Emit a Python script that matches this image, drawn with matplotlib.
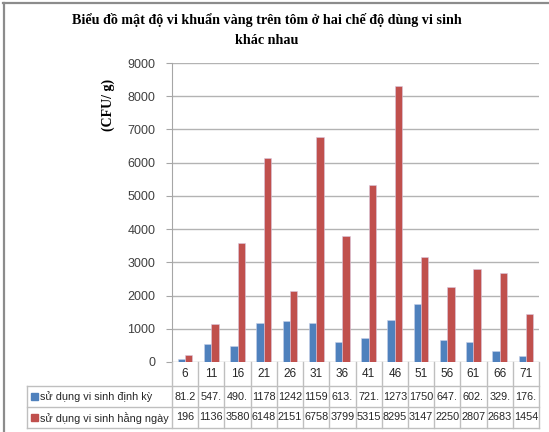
import numpy as np
import matplotlib.pyplot as plt
from matplotlib.lines import Line2D
from matplotlib.patches import Rectangle
from matplotlib.transforms import blended_transform_factory

days = ["6", "11", "16", "21", "26", "31", "36", "41", "46", "51", "56", "61", "66", "71"]
dinh_ky = [81.2, 547.5, 490.5, 1178, 1242, 1159, 613.5, 721.5, 1273, 1750, 647.5, 602.5, 329.5, 176.5]
hang_ngay = [196, 1136, 3580, 6148, 2151, 6758, 3799, 5315, 8295, 3147, 2250, 2807, 2683, 1454]
# cell texts as they appear (truncated) in the chart's data table
dinh_ky_txt = ["81.2", "547.", "490.", "1178", "1242", "1159", "613.", "721.", "1273", "1750",
               "647.", "602.", "329.", "176."]
hang_ngay_txt = ["196", "1136", "3580", "6148", "2151", "6758", "3799", "5315", "8295", "3147",
                 "2250", "2807", "2683", "1454"]
series_names = ["sử dụng vi sinh định kỳ", "sử dụng vi sinh hằng ngày"]
colors = ["#4F81BD", "#C0504D"]

W, H = 549, 432
fig = plt.figure(figsize=(W / 100, H / 100), dpi=100)

def fx(x):
    return x / W

def fy(y):
    return 1 - y / H

ax = fig.add_axes([fx(172), fy(362), fx(539) - fx(172), fy(63) - fy(362)])

x = np.arange(len(days))
bw = 0.28
ax.bar(x - bw / 2, dinh_ky, bw, color=colors[0], edgecolor="#c8d0e8", linewidth=0.4, zorder=3)
ax.bar(x + bw / 2, hang_ngay, bw, color=colors[1], edgecolor="#d8c8e0", linewidth=0.4, zorder=3)

ax.set_xlim(-0.5, len(days) - 0.5)
ax.set_ylim(0, 9000)
ax.set_yticks(np.arange(0, 9001, 1000))
ax.yaxis.grid(True, color="#b3b3b3", linewidth=1)
ax.set_axisbelow(True)
for s in ["top", "right", "bottom"]:
    ax.spines[s].set_visible(False)
ax.spines["left"].set_color("#a6a6a6")
ax.set_xticks([])
ax.tick_params(axis="y", length=4, color="#a6a6a6", labelsize=9, pad=8)
for lab in ax.get_yticklabels():
    lab.set_fontfamily("Liberation Sans")
    lab.set_color("#404040")

fig.text(fx(108), fy(105), "(CFU/ g)", rotation=90, ha="center", va="center",
         fontfamily="Liberation Serif", fontweight="bold", fontsize=10)

fig.text(fx(267), fy(20), "Biểu đồ mật độ vi khuẩn vàng trên tôm ở hai chế độ dùng vi sinh",
         ha="center", va="center", fontfamily="Liberation Serif", fontweight="bold", fontsize=10.2)
fig.text(fx(267), fy(40), "khác nhau",
         ha="center", va="center", fontfamily="Liberation Serif", fontweight="bold", fontsize=10.2)

# data table under the axis
tr = blended_transform_factory(ax.transData, fig.transFigure)
lc = "#bfbfbf"
y_top, y_r1, y_r2, y_bot = 362, 385.5, 407, 427.5
for b in np.arange(-0.5, len(days), 1.0):
    fig.add_artist(Line2D([b, b], [fy(y_top), fy(y_bot)], transform=tr, color=lc, lw=1))
for yy in [y_r1, y_r2, y_bot]:
    fig.add_artist(Line2D([fx(27), fx(538.5)], [fy(yy), fy(yy)], transform=fig.transFigure,
                          color=lc, lw=1))
fig.add_artist(Line2D([fx(27), fx(27)], [fy(y_r1), fy(y_bot)], transform=fig.transFigure,
                      color=lc, lw=1))

font_t = dict(fontfamily="Liberation Sans", fontsize=7.8, color="#262626")
for i, d in enumerate(days):
    fig.text(i, fy(374), d, transform=tr, ha="center", va="center",
             fontfamily="Liberation Sans", fontsize=8.5, color="#262626")
    fig.text(i, fy(396.5), dinh_ky_txt[i], transform=tr, ha="center", va="center", **font_t)
    fig.text(i, fy(417.5), hang_ngay_txt[i], transform=tr, ha="center", va="center", **font_t)

for k, (name, c) in enumerate(zip(series_names, colors)):
    yc = [396.5, 417.5][k]
    fig.add_artist(Rectangle((fx(30.5), fy(yc + 3.5)), fx(7), fy(0) - fy(7),
                             transform=fig.transFigure, color=c))
    fig.text(fx(40), fy(yc), name, ha="left", va="center", **font_t)

# chart area border
fig.add_artist(Line2D([fx(3), fx(549)], [fy(2.5), fy(2.5)], transform=fig.transFigure,
                      color="#8c8c8c", lw=1.6))
fig.add_artist(Line2D([fx(3.5), fx(3.5)], [fy(2.5), fy(432)], transform=fig.transFigure,
                      color="#8c8c8c", lw=1.6))

fig.savefig("out.png", dpi=100)
